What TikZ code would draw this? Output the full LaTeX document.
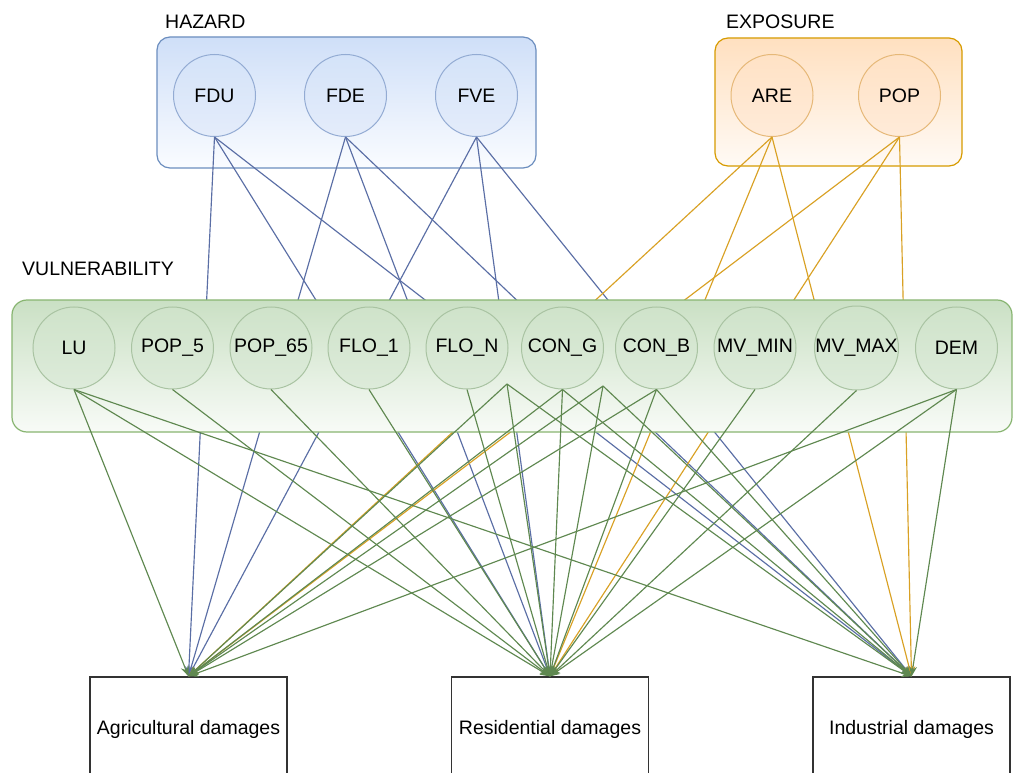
\documentclass[tikz,border=0pt]{standalone}
\usepackage{fontspec}
\setmainfont{Liberation Sans}
\usetikzlibrary{arrows.meta}
\definecolor{hzstroke}{HTML}{6C8EBF}
\definecolor{hztop}{HTML}{CFDFF8}
\definecolor{hzmid}{HTML}{DCE7FA}
\definecolor{hzbot}{HTML}{FAFCFF}
\definecolor{hzcirctop}{HTML}{D4E3F9}
\definecolor{hzcircbot}{HTML}{E4ECFA}
\definecolor{hzcircline}{HTML}{93ABD3}
\definecolor{exstroke}{HTML}{D79B00}
\definecolor{extop}{HTML}{FFE0C0}
\definecolor{exmid}{HTML}{FFE8D2}
\definecolor{exbot}{HTML}{FFFAF5}
\definecolor{excirctop}{HTML}{FFE2C5}
\definecolor{excircbot}{HTML}{FFEBD9}
\definecolor{excircline}{HTML}{E6B878}
\definecolor{vstroke}{HTML}{88B571}
\definecolor{vtop}{HTML}{CAE0C4}
\definecolor{vmid}{HTML}{D6E8D1}
\definecolor{vbot}{HTML}{F8FBF7}
\definecolor{vcirctop}{HTML}{CFE3CA}
\definecolor{vcircbot}{HTML}{DDEBDA}
\definecolor{vcircline}{HTML}{A9C3A2}
\definecolor{hzline}{HTML}{5A6EA5}
\definecolor{exline}{HTML}{D9A124}
\definecolor{vline}{HTML}{5F8850}
\begin{document}
\begin{tikzpicture}[x=1pt,y=-1pt,
  every node/.style={font=\fontsize{19.5}{23}\selectfont, inner sep=0pt, text=black},
  grpbox/.style={rounded corners=13pt, line width=1.2pt},
  circnode/.style={circle, minimum size=82pt, line width=1pt},
  hzc/.style={circnode, draw=hzcircline, top color=hzcirctop, bottom color=hzcircbot},
  exc/.style={circnode, draw=excircline, top color=excirctop, bottom color=excircbot},
  vc/.style={circnode, draw=vcircline, top color=vcirctop, bottom color=vcircbot},
  dmg/.style={draw=black!80, line width=1.3pt, minimum width=197pt, minimum height=104pt, fill=white},
  tip/.style={-{Stealth[length=10pt,width=8pt]}},
  hzedge/.style={draw=hzline, line width=1.15pt, tip},
  exedge/.style={draw=exline, line width=1.15pt, tip},
  vedge/.style={draw=vline, line width=1.15pt, tip},
  grplabel/.style={anchor=base west}
]
\clip (0,0) rectangle (1013,773);
\fill[white] (0,0) rectangle (1013,773);

% hazard and exposure groups
\node[grpbox, draw=hzstroke, top color=hztop, middle color=hzmid, bottom color=hzbot,
      minimum width=379pt, minimum height=131pt] (hazbox) at (346.5,102.5) {};
\node[grpbox, draw=exstroke, top color=extop, middle color=exmid, bottom color=exbot,
      minimum width=247pt, minimum height=128pt] (expbox) at (838.5,102) {};
\node[grplabel] (hazlabel) at (165,29) {HAZARD};
\node[grplabel] (explabel) at (726,29) {EXPOSURE};

\node[hzc] (fdu) at (214.5,95.5) {FDU};
\node[hzc] (fde) at (345.5,95.5) {FDE};
\node[hzc] (fve) at (476.5,95.5) {FVE};
\node[exc] (are) at (772,95.5) {ARE};
\node[exc] (pop) at (899.5,95.5) {POP};

% damage boxes
\node[dmg] (agri) at (188.5,729) {Agricultural damages};
\node[dmg] (res)  at (550,729) {Residential damages};
\node[dmg] (ind)  at (911.5,729) {Industrial damages};

% hazard and exposure edges (pass behind the vulnerability group)
\foreach \s in {fdu,fde,fve}
  \foreach \t in {agri,res,ind}
    \draw[hzedge] (\s.south) -- (\t.north);
\foreach \s in {are,pop}
  \foreach \t in {agri,res,ind}
    \draw[exedge] (\s.south) -- (\t.north);

% vulnerability group
\node[grpbox, rounded corners=15pt, draw=vstroke, top color=vtop, middle color=vmid, bottom color=vbot,
      minimum width=1000pt, minimum height=132pt] (vulbox) at (512,366) {};
\node[grplabel] (vullabel) at (22,276) {VULNERABILITY};

\node[vc] (lu)    at (74,348)    {LU};
\node[vc] (popf)  at (172.5,348) {POP\_5};
\node[vc] (pops)  at (271,348)   {POP\_65};
\node[vc] (floa)  at (369,348)   {FLO\_1};
\node[vc] (flon)  at (467,348)   {FLO\_N};
\node[vc] (cong)  at (562.5,348) {CON\_G};
\node[vc] (conb)  at (656.5,348) {CON\_B};
\node[vc] (mvmin) at (755,348)   {MV\_MIN};
\node[vc] (mvmax) at (856.5,348) {MV\_MAX};
\node[vc] (dem)   at (956.5,348) {DEM};

\coordinate (flonx) at (507,384);
\coordinate (congx) at (603,386);

% vulnerability edges
\foreach \s/\t in {lu/agri, lu/res, lu/ind,
                   popf/res, pops/res, floa/res, flon/res,
                   cong/agri, cong/res, cong/ind,
                   conb/agri, conb/res, conb/ind,
                   mvmin/res, mvmax/res,
                   dem/agri, dem/res, dem/ind}
  \draw[vedge] (\s.south) -- (\t.north);
\foreach \s in {flonx,congx}
  \foreach \t in {agri,res,ind}
    \draw[vedge] (\s) -- (\t.north);
\end{tikzpicture}
\end{document}
